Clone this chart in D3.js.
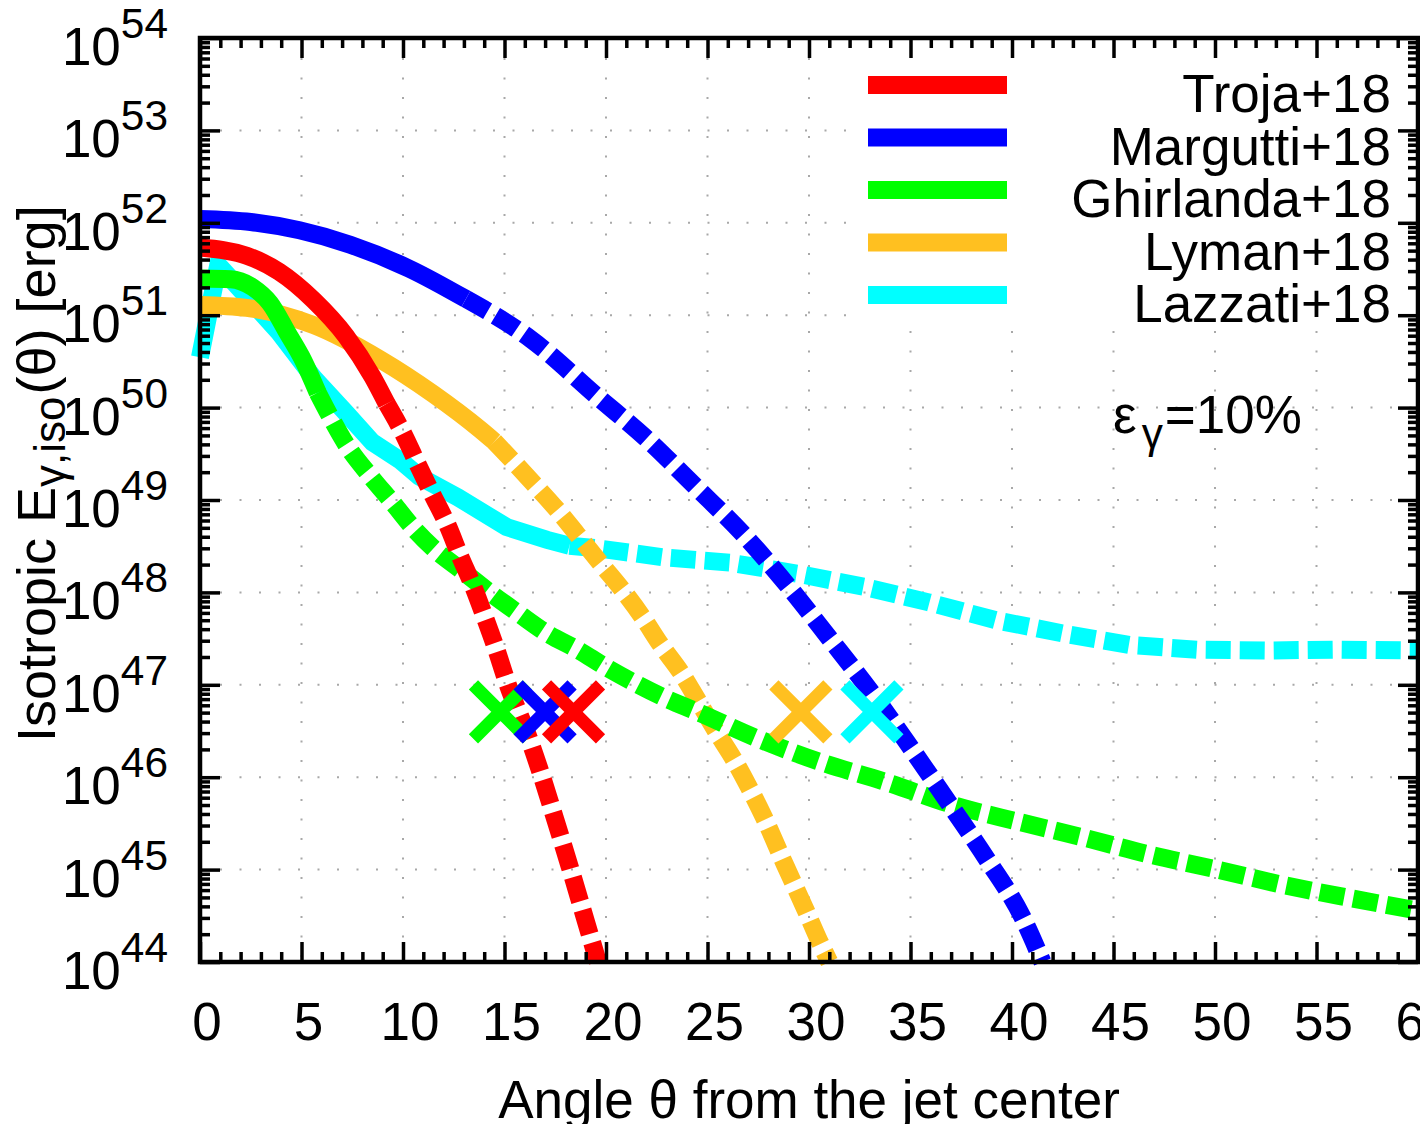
<!DOCTYPE html>
<html><head><meta charset="utf-8">
<script src="https://cdn.jsdelivr.net/npm/d3@7"></script>
<style>body{margin:0;background:#fff} text{font-family:"Liberation Sans",Arial,Helvetica,sans-serif;fill:#000}</style>
</head><body>
<svg id="c" width="1420" height="1124"></svg>
<script>
// ---------------- data ----------------
const seriesNames  = ["Troja+18","Margutti+18","Ghirlanda+18","Lyman+18","Lazzati+18"];
const seriesColors = ["#ff0000","#0000ff","#00ff00","#ffc020","#00ffff"];

const trojaTheta = [0,2.3,3.9,5.6,7.2,8.5,9.2,10.0,10.7,11.4,12.2,12.8,13.5,14.0,14.6,15.1,16.3,16.9,17.5,18.2,19.0,19.6];
const trojaE     = [5.4e51,4.4e51,2.95e51,1.45e51,5.9e50,2.15e50,1.1e50,5.3e49,2.5e49,1.2e49,5.3e48,2.5e48,1.1e48,5.6e47,2.4e47,1.1e47,2.3e46,9.3e45,3.5e45,1.1e45,2.8e44,1.0e44];
const trojaSolidEnd = 9.2;

const marguttiTheta = [0,2.5,4.9,7.4,10.3,13.1,16.3,19.6,22.0,24.4,26.7,29.0,31.0,33.0,35.0,36.9,38.8,40.5,41.5];
const marguttiE     = [1.1e52,1.02e52,8.3e51,5.8e51,3.2e51,1.5e51,5.5e50,1.3e50,4.6e49,1.4e49,4.4e48,1.15e48,3.2e47,8.7e46,2.1e46,5.2e45,1.26e45,3.1e44,1.0e44];
const marguttiSolidEnd = 13.1;

const ghirlandaTheta = [0,1.5,2.6,3.45,4.3,5.1,5.8,6.5,7.2,8.4,9.5,10.5,11.5,13.0,14.4,15.7,17.1,18.6,20.0,21.4,22.9,24.5,27.5,30.6,33.9,37.1,40.3,43.6,46.8,50.1,53.4,56.7,60];
const ghirlandaE     = [2.5e51,2.45e51,2.0e51,1.35e51,6.5e50,3.2e50,1.45e50,7.4e49,4.0e49,1.8e49,9.3e48,5.0e48,3.0e48,1.66e48,9.5e47,5.9e47,3.6e47,2.4e47,1.55e47,1.05e47,7.2e46,5.1e46,2.6e46,1.45e46,8.7e45,5.0e45,3.3e45,2.2e45,1.45e45,1.0e45,6.8e44,4.9e44,3.6e44];
const ghirlandaSolidEnd = 5.8;

const lymanTheta = [0,2.3,5.6,8.9,11.5,13.8,14.5,15.3,16.5,17.6,18.6,19.7,20.8,21.8,22.7,23.7,24.5,25.4,26.3,27.0,27.8,28.8,29.8,30.5,31.0];
const lymanE     = [1.29e51,1.2e51,7.8e50,3.3e50,1.4e50,5.8e49,4.3e49,2.8e49,1.45e49,7.8e48,4.2e48,2.1e48,1.07e48,5.4e47,2.7e47,1.35e47,6.9e46,3.2e46,1.55e46,8.1e45,3.6e45,1.15e45,3.8e44,1.7e44,1.0e44];
const lymanSolidEnd = 14.5;

const lazzatiTheta = [0,0.9,2.3,3.9,5.6,7.2,8.5,9.85,10.8,12.7,15.1,17.1,18.2,19.6,22.8,26.1,29.4,32.7,35.9,39.2,42.5,45.8,49.1,52.5,55.8,60];
const lazzatiE     = [3.5e50,3.5e51,1.6e51,6.5e50,2.1e50,8.7e49,4.2e49,2.7e49,1.8e49,1.07e49,5.1e48,3.7e48,3.2e48,3.0e48,2.4e48,2.1e48,1.6e48,1.15e48,7.8e47,5.0e47,3.6e47,2.7e47,2.4e47,2.35e47,2.4e47,2.35e47];
const lazzatiSolidEnd = 18.2;

const markerTheta = [18.4,17.0,14.8,29.6,33.1];
const markerE     = [5.1e46,5.1e46,5.1e46,5.1e46,5.1e46];

const xTickValues = [0,5,10,15,20,25,30,35,40,45,50,55,60];
const xTickLabels = ["0","5","10","15","20","25","30","35","40","45","50","55","60"];
const yTickExponents = [44,45,46,47,48,49,50,51,52,53,54];
const annotation = {main:"ε", sub:"γ", rest:"=10%"};

// ---------------- layout ----------------
const L = 200, R = 1418, T = 38, B = 962;
const svg = d3.select("#c");
svg.append("rect").attr("width",1420).attr("height",1124).attr("fill","#fff");
const x = d3.scaleLinear().domain([0,60]).range([L,R]);
const y = d3.scaleLog().domain([1e44,1e54]).range([B,T]);

// grid
const grid = svg.append("g").attr("stroke","#a8a8a8").attr("stroke-width",2).attr("stroke-dasharray","2,17.5");
xTickValues.filter(v=>v>0&&v<60).forEach(v=>{
  grid.append("line").attr("x1",x(v)).attr("x2",x(v)).attr("y1",T+20).attr("y2",B);
});
yTickExponents.filter(e=>e>44&&e<54).forEach(e=>{
  grid.append("line").attr("x1",L+20).attr("x2",R).attr("y1",y(Math.pow(10,e))).attr("y2",y(Math.pow(10,e)));
});

// legend background (opaque key box)
svg.append("rect").attr("x",855).attr("y",56).attr("width",537).attr("height",268).attr("fill","#fff");

// series
const series = [
  {t:trojaTheta,e:trojaE,s:trojaSolidEnd},
  {t:marguttiTheta,e:marguttiE,s:marguttiSolidEnd},
  {t:ghirlandaTheta,e:ghirlandaE,s:ghirlandaSolidEnd},
  {t:lymanTheta,e:lymanE,s:lymanSolidEnd},
  {t:lazzatiTheta,e:lazzatiE,s:lazzatiSolidEnd}
];
const lw = 18;
const drawOrder = [4,3,2,1,0];
const linesG = svg.append("g").attr("fill","none");
drawOrder.forEach(i=>{
  const sr = series[i];
  const pts = sr.t.map((t,k)=>[t,sr.e[k]]);
  const gen = d3.line().x(d=>x(d[0])).y(d=>y(d[1])).curve(i===4?d3.curveLinear:d3.curveMonotoneX);
  const solid = pts.filter(d=>d[0]<=sr.s);
  const dashed = pts.filter(d=>d[0]>=sr.s);
  linesG.append("path").attr("d",gen(solid)).attr("stroke",seriesColors[i]).attr("stroke-width",lw).attr("stroke-linejoin","miter").attr("stroke-miterlimit",3);
  linesG.append("path").attr("d",gen(dashed)).attr("stroke",seriesColors[i]).attr("stroke-width",lw).attr("stroke-dasharray","25,9").attr("stroke-linejoin","miter");
});

// markers
const mk = svg.append("g").attr("stroke-width",13).attr("fill","none");
[2,1,0,3,4].forEach(i=>{
  const cx = x(markerTheta[i]), cy = y(markerE[i]), h = 27;
  mk.append("path").attr("d",`M${cx-h},${cy-h}L${cx+h},${cy+h}M${cx-h},${cy+h}L${cx+h},${cy-h}`).attr("stroke",seriesColors[i]);
});

// axes ticks
const majorX = xTickValues;
const minorX = d3.range(0,61,1).filter(v=>v%5!==0);
const majorY = yTickExponents.map(e=>Math.pow(10,e));
const minorY = [];
yTickExponents.slice(0,-1).forEach(e=>{for(let m=2;m<=9;m++) minorY.push(m*Math.pow(10,e));});
function styleAxis(g){ g.select(".domain").remove(); g.selectAll("line").attr("stroke","#000").attr("stroke-width",3.5); g.selectAll("text").remove(); }
svg.append("g").attr("transform",`translate(0,${B})`).call(d3.axisBottom(x).tickValues(majorX).tickSize(-20).tickFormat("")).call(styleAxis);
svg.append("g").attr("transform",`translate(0,${B})`).call(d3.axisBottom(x).tickValues(minorX).tickSize(-10).tickFormat("")).call(styleAxis);
svg.append("g").attr("transform",`translate(0,${T})`).call(d3.axisTop(x).tickValues(majorX).tickSize(-20).tickFormat("")).call(styleAxis);
svg.append("g").attr("transform",`translate(0,${T})`).call(d3.axisTop(x).tickValues(minorX).tickSize(-10).tickFormat("")).call(styleAxis);
svg.append("g").attr("transform",`translate(${L},0)`).call(d3.axisLeft(y).tickValues(majorY).tickSize(-20).tickFormat("")).call(styleAxis);
svg.append("g").attr("transform",`translate(${L},0)`).call(d3.axisLeft(y).tickValues(minorY).tickSize(-10).tickFormat("")).call(styleAxis);
svg.append("g").attr("transform",`translate(${R},0)`).call(d3.axisRight(y).tickValues(majorY).tickSize(-20).tickFormat("")).call(styleAxis);
svg.append("g").attr("transform",`translate(${R},0)`).call(d3.axisRight(y).tickValues(minorY).tickSize(-10).tickFormat("")).call(styleAxis);
svg.append("rect").attr("x",L).attr("y",T).attr("width",R-L).attr("height",B-T).attr("fill","none").attr("stroke","#000").attr("stroke-width",4.5);

// tick labels
const FS = 53, SFS = 42.4;
xTickValues.forEach((v,k)=>{
  svg.append("text").attr("x",x(v)+7).attr("y",1040).attr("text-anchor","middle").attr("font-size",FS).text(xTickLabels[k]);
});
yTickExponents.forEach(e=>{
  const t = svg.append("text").attr("x",168).attr("y",y(Math.pow(10,e))+27).attr("text-anchor","end").attr("font-size",FS);
  t.append("tspan").text("10");
  t.append("tspan").attr("dy",-27).attr("font-size",SFS).text(String(e));
});

// axis titles
svg.append("text").attr("x",(L+R)/2).attr("y",1118).attr("text-anchor","middle").attr("font-size",FS).text("Angle θ from the jet center");
const yt = svg.append("text").attr("transform","translate(55,742) rotate(-90)").attr("text-anchor","start").attr("font-size",54);
yt.append("tspan").text("Isotropic E");
yt.append("tspan").attr("dy",10).attr("font-size",44).text("γ,iso");
yt.append("tspan").attr("dy",-10).attr("dx",2).text("(θ) [erg]");

// legend
seriesNames.forEach((n,i)=>{
  const ly = 85 + i*52.5;
  svg.append("line").attr("x1",868).attr("x2",1007).attr("y1",ly).attr("y2",ly).attr("stroke",seriesColors[i]).attr("stroke-width",lw);
  svg.append("text").attr("x",1391).attr("y",ly+27).attr("text-anchor","end").attr("font-size",FS).text(n);
});

// annotation
const an = svg.append("text").attr("x",1113).attr("y",433).attr("font-size",FS);
an.append("tspan").text(annotation.main);
an.append("tspan").attr("dy",15).attr("dx",5).attr("font-size",SFS).text(annotation.sub);
an.append("tspan").attr("dy",-15).attr("dx",2).text(annotation.rest);
</script>
</body></html>
